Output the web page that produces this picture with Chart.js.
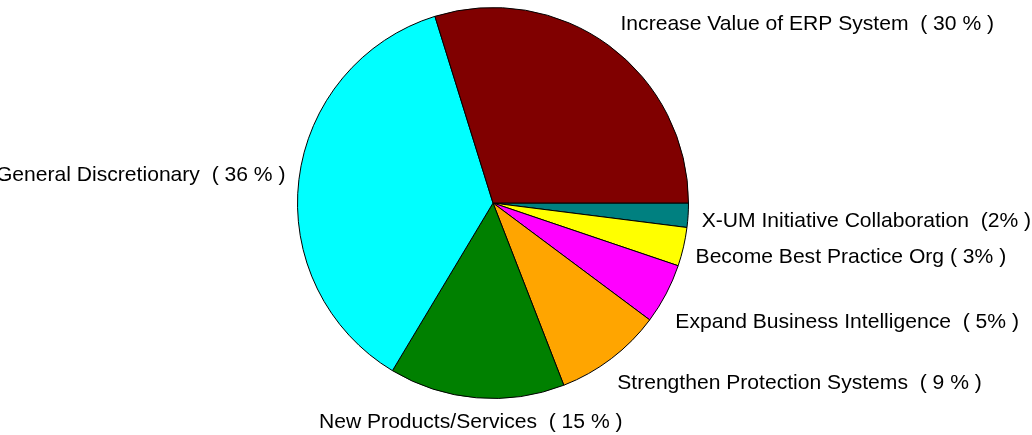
<!DOCTYPE html>
<html>
<head>
<meta charset="utf-8">
<script src="https://cdn.jsdelivr.net/npm/chart.js@4/dist/chart.umd.min.js"></script>
<style>
  html, body { margin: 0; padding: 0; background: #fff; }
  #wrap { width: 1032px; height: 435px; }
</style>
</head>
<body>
<div id="wrap"><canvas id="chart" width="1032" height="435"></canvas></div>
<script>
// slices, clockwise from 3 o'clock
const labels = [
  'X-UM Initiative Collaboration  (2% )',
  'Become Best Practice Org ( 3% )',
  'Expand Business Intelligence  ( 5% )',
  'Strengthen Protection Systems  ( 9 % )',
  'New Products/Services  ( 15 % )',
  'General Discretionary  ( 36 % )',
  'Increase Value of ERP System  ( 30 % )'
];
const values = [2.0, 3.2, 5.0, 8.9, 14.5, 36.6, 29.8];
const colors = ['#008080', '#ffff00', '#ff00ff', '#ffa500', '#008000', '#00ffff', '#800000'];

// draws labels outside the pie, like matlab's pie()
const outsideLabels = {
  id: 'outsideLabels',
  afterDraw(chart, args, opts) {
    const ctx = chart.ctx;
    const meta = chart.getDatasetMeta(0);
    ctx.save();
    ctx.font = '21.1px "Liberation Sans", Arial, sans-serif';
    ctx.fillStyle = '#000';
    ctx.textBaseline = 'middle';
    meta.data.forEach((arc, i) => {
      const p = arc.getProps(['x', 'y', 'startAngle', 'endAngle', 'outerRadius'], true);
      const a = (p.startAngle + p.endAngle) / 2;
      const r = p.outerRadius * 1.1;
      const nudge = opts.nudge[i] || [0, 0];
      let x = p.x + Math.cos(a) * r + nudge[0];
      let y = p.y + Math.sin(a) * r + Math.sin(a) * 8 + nudge[1];
      const c = Math.cos(a);
      if (c > 0.15) { ctx.textAlign = 'left'; x -= 8; }
      else if (c < -0.15) { ctx.textAlign = 'right'; x += 8; }
      else { ctx.textAlign = 'center'; }
      ctx.fillText(labels[i], x, y);
    });
    ctx.restore();
  }
};

new Chart(document.getElementById('chart'), {
  type: 'pie',
  data: {
    labels: labels,
    datasets: [{
      data: values,
      backgroundColor: colors,
      borderColor: '#000',
      borderWidth: 1,
      hoverOffset: 0
    }]
  },
  options: {
    responsive: false,
    animation: false,
    rotation: 90,
    layout: { padding: { left: 297, right: 343, top: 7, bottom: 36 } },
    plugins: {
      legend: { display: false },
      tooltip: { enabled: false },
      outsideLabels: {
        // small shifts so labels sit where matlab put them
        nudge: [[2, 4], [1, 4], [0, 15], [2, 3], [-4, -3], [-2, -1], [8, 1]]
      }
    },
    events: []
  },
  plugins: [outsideLabels]
});
</script>
</body>
</html>
